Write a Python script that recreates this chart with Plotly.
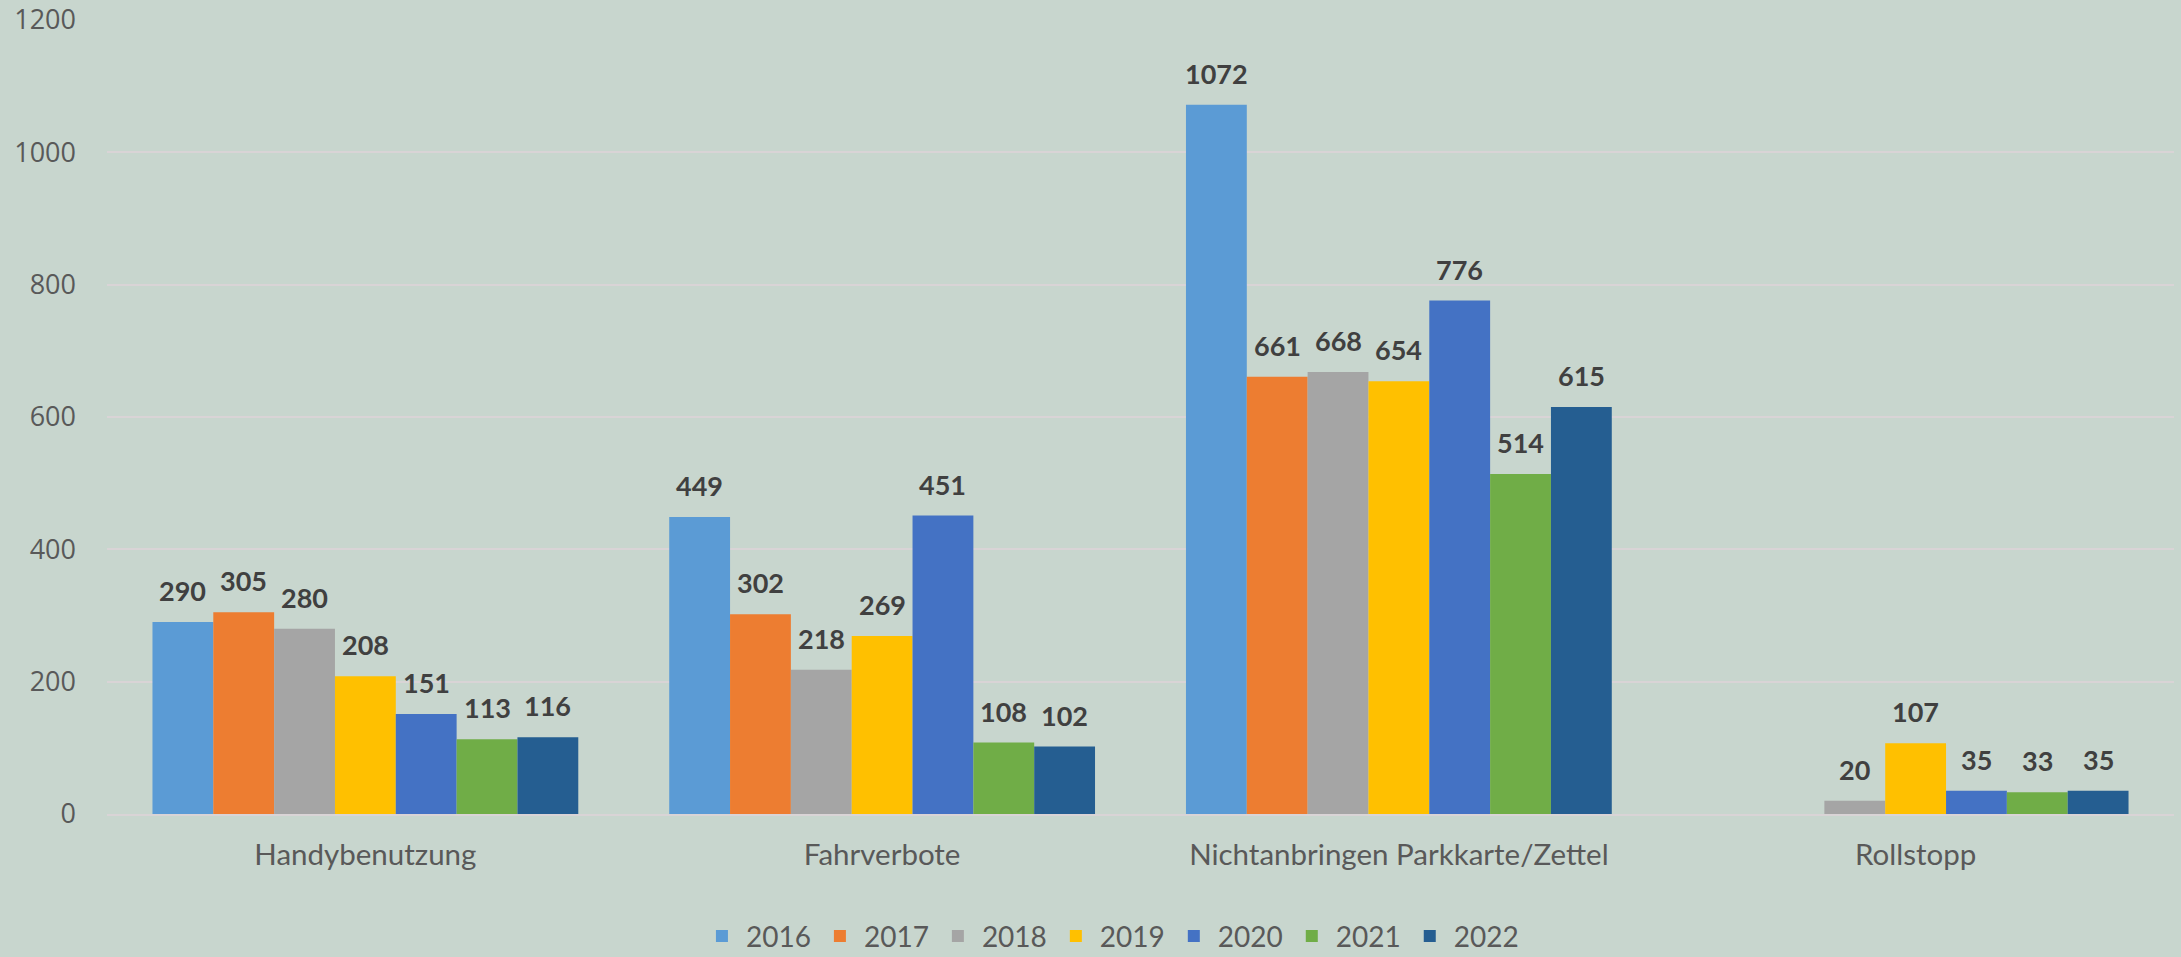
import plotly.graph_objects as go

categories = ["Handybenutzung", "Fahrverbote", "Nichtanbringen Parkkarte/Zettel", "Rollstopp"]
years = ["2016", "2017", "2018", "2019", "2020", "2021", "2022"]
v2016 = [290, 449, 1072, None]
v2017 = [305, 302, 661, None]
v2018 = [280, 218, 668, 20]
v2019 = [208, 269, 654, 107]
v2020 = [151, 451, 776, 35]
v2021 = [113, 108, 514, 33]
v2022 = [116, 102, 615, 35]
series = [v2016, v2017, v2018, v2019, v2020, v2021, v2022]
colors = ["#5B9BD5", "#ED7D31", "#A5A5A5", "#FFC000", "#4472C4", "#70AD47", "#255E91"]
y_ticks = [0, 200, 400, 600, 800, 1000, 1200]

BARGAP = 0.176
fig = go.Figure()
for name, vals, col in zip(years, series, colors):
    fig.add_trace(go.Bar(x=categories, y=vals, name=name, marker=dict(color=col, line=dict(width=0))))

slot = (1 - BARGAP) / len(years)
annotations = []
for j, vals in enumerate(series):
    for i, v in enumerate(vals):
        if v is None:
            continue
        annotations.append(dict(
            x=i + (j - (len(years) - 1) / 2) * slot, y=v, xref="x", yref="y",
            text=str(v), showarrow=False, yanchor="bottom", yshift=13,
            font=dict(family="Lato", size=27, color="#404040", weight="bold")))

fig.update_layout(
    barmode="group", bargap=BARGAP, bargroupgap=0,
    width=2181, height=957,
    margin=dict(l=107, r=7, t=20, b=143, autoexpand=False),
    paper_bgcolor="#C8D6CE", plot_bgcolor="rgba(0,0,0,0)",
    font=dict(family="Lato", color="#595959"),
    annotations=annotations,
    legend=dict(orientation="h", x=0.4857, xanchor="center", y=-0.154, yanchor="middle",
                itemwidth=38,
                font=dict(family="Lato", size=28, color="#595959"), bgcolor="rgba(0,0,0,0)"),
    xaxis=dict(showgrid=False, showline=True, linecolor="#D9D4D6", linewidth=2, automargin=False,
               tickfont=dict(family="Lato", size=29.5, color="#595959"), ticklabelstandoff=14),
    yaxis=dict(range=[0, 1200], tickvals=y_ticks, showgrid=True, gridcolor="#D9D4D6", gridwidth=2,
               zeroline=False, showline=False, automargin=False,
               tickfont=dict(family="Open Sans", size=27, color="#595959"), ticklabelstandoff=30),
)
fig.write_html("out.html", config={"displayModeBar": False},
               post_script="document.body.style.margin='0';document.body.style.overflow='hidden';")
